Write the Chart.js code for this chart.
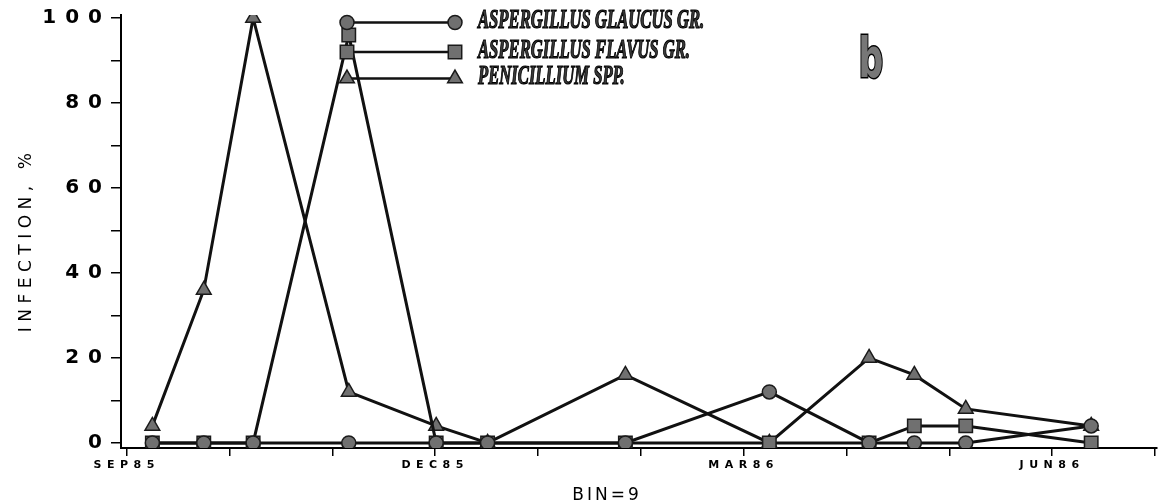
<!DOCTYPE html>
<html>
<head>
<meta charset="utf-8">
<script src="https://cdn.jsdelivr.net/npm/chart.js@4.4.1/dist/chart.umd.min.js"></script>
<style>
  html, body { margin: 0; padding: 0; background: #fff; }
  #wrap { width: 1168px; height: 504px; position: relative; }
</style>
</head>
<body>
<div id="wrap"><canvas id="infeccaoChart"></canvas></div>
<script>
// Datas de amostragem (meses desde SEP85) e infecção (%)
const sampleMonths = [0.25, 0.75, 1.23, 2.16, 3.01, 3.51, 4.85, 6.25, 7.22, 7.66, 8.16, 9.38];
const glaucus      = [0, 0, 0, 0, 0, 0, 0, 12, 0, 0, 0, 4];
const flavus       = [0, 0, 0, 96, 0, 0, 0, 0, 0, 4, 4, 0];
const penicillium  = [4, 36, 100, 12, 4, 0, 16, 0, 20, 16, 8, 4];

const monthLabels = ['SEP85', '', '', 'DEC85', '', '', 'MAR86', '', '', 'JUN86', ''];
const yTickValues = [0, 10, 20, 30, 40, 50, 60, 70, 80, 90, 100];
const seriesNames = ['ASPERGILLUS GLAUCUS GR.', 'ASPERGILLUS FLAVUS GR.', 'PENICILLIUM SPP.'];
const seriesStyles = ['circle', 'rect', 'triangle'];
const seriesRadius = [7, 9.5, 8.5];

function toPoints(values) {
    return values.map((v, i) => ({ x: sampleMonths[i], y: v }));
}

const allSeries = [glaucus, flavus, penicillium];
const datasets = allSeries.map((vals, i) => ({
    label: seriesNames[i],
    data: toPoints(vals),
    borderColor: '#111',
    borderWidth: 3,
    pointStyle: seriesStyles[i],
    pointRadius: seriesRadius[i],
    pointBackgroundColor: '#707070',
    pointBorderColor: '#1a1a1a',
    pointBorderWidth: 1.5,
    tension: 0
}));

// espaçamento entre letras nos rótulos de cada eixo
function espacar(px) {
    return function (scale) {
        if (scale._espacado) return;
        scale._espacado = true;
        const original = scale.drawLabels;
        scale.drawLabels = function (area) {
            this.ctx.letterSpacing = px;
            original.call(this, area);
            this.ctx.letterSpacing = '0px';
        };
    };
}

// legenda desenhada dentro do gráfico, letra "b" e títulos dos eixos
const legendPlugin = {
    id: 'legendaInterna',
    afterDatasetsDraw(chart) {
        const ctx = chart.ctx;
        const rows = [22.5, 52, 78.5];
        ctx.save();
        rows.forEach((y, i) => {
            ctx.strokeStyle = '#111';
            ctx.lineWidth = 2.4;
            ctx.beginPath();
            ctx.moveTo(347, y);
            ctx.lineTo(455, y);
            ctx.stroke();
            const opts = {
                pointStyle: seriesStyles[i],
                radius: seriesRadius[i],
                rotation: 0,
                borderWidth: 1.5
            };
            ctx.fillStyle = '#707070';
            ctx.strokeStyle = '#1a1a1a';
            ctx.lineWidth = 1.5;
            Chart.helpers.drawPoint(ctx, opts, 347, y);
            Chart.helpers.drawPoint(ctx, opts, 455, y);
        });

        ctx.font = 'italic bold 27px "Liberation Serif"';
        ctx.textBaseline = 'middle';
        ctx.textAlign = 'left';
        const sx = 212 / ctx.measureText(seriesNames[1]).width;
        rows.forEach((y, i) => {
            ctx.save();
            ctx.translate(478, y - 1);
            ctx.scale(sx, 1);
            ctx.fillStyle = '#3a3a3a';
            ctx.strokeStyle = '#000';
            ctx.lineWidth = 1.2;
            ctx.fillText(seriesNames[i], 0, 0);
            ctx.strokeText(seriesNames[i], 0, 0);
            ctx.restore();
        });

        // letra do painel
        ctx.save();
        ctx.translate(871, 62);
        ctx.scale(0.62, 1);
        ctx.font = 'bold 56px "DejaVu Sans"';
        ctx.textAlign = 'center';
        ctx.textBaseline = 'middle';
        ctx.fillStyle = '#777';
        ctx.strokeStyle = '#000';
        ctx.lineWidth = 3;
        ctx.strokeText('b', 0, 0);
        ctx.fillText('b', 0, 0);
        ctx.restore();

        // título do eixo y
        ctx.save();
        ctx.translate(27, 243);
        ctx.rotate(-Math.PI / 2);
        ctx.letterSpacing = '5.5px';
        ctx.font = '17px "DejaVu Sans"';
        ctx.fillStyle = '#000';
        ctx.textAlign = 'center';
        ctx.textBaseline = 'middle';
        ctx.fillText('INFECTION, %', 3, 0);
        ctx.restore();

        // título do eixo x
        ctx.letterSpacing = '3px';
        ctx.font = '17px "DejaVu Sans"';
        ctx.fillStyle = '#000';
        ctx.textAlign = 'center';
        ctx.textBaseline = 'middle';
        ctx.fillText('BIN=9', 607, 496);
        ctx.restore();
    }
};

const ctx = document.getElementById('infeccaoChart').getContext('2d');
const infeccaoChart = new Chart(ctx, {
    type: 'line',
    data: { datasets: datasets },
    plugins: [legendPlugin],
    options: {
        responsive: true,
        maintainAspectRatio: false,
        animation: false,
        layout: { padding: { top: 15, right: 6, left: 0, bottom: 0 } },
        plugins: {
            legend: { display: false },
            tooltip: { enabled: false }
        },
        scales: {
            x: {
                type: 'linear',
                min: -0.055,
                max: 10.02,
                afterBuildTicks(scale) {
                    scale.ticks = monthLabels.map((_, i) => ({ value: i }));
                },
                afterFit(scale) {
                    scale.height = 56;
                },
                afterUpdate: espacar('5.5px'),
                border: { display: true, color: '#000', width: 2 },
                grid: { drawOnChartArea: false, tickLength: 8, color: '#000', lineWidth: 1.5 },
                ticks: {
                    autoSkip: false,
                    maxRotation: 0,
                    padding: 3,
                    color: '#000',
                    font: { family: 'DejaVu Sans', weight: 'bold', size: 11 },
                    callback: (v, i) => monthLabels[i]
                }
            },
            y: {
                min: -1.2,
                max: 100.7,
                afterBuildTicks(scale) {
                    scale.ticks = yTickValues.map(v => ({ value: v }));
                },
                afterFit(scale) {
                    scale.width = 121;
                },
                afterUpdate: espacar('9px'),
                border: { display: true, color: '#000', width: 2 },
                grid: { drawOnChartArea: false, tickLength: 10, color: '#000', lineWidth: 1.5 },
                ticks: {
                    padding: 0,
                    color: '#000',
                    font: { family: 'DejaVu Sans', weight: 'bold', size: 20 },
                    callback: v => (v % 20 === 0 ? v : '')
                }
            }
        }
    }
});
</script>
</body>
</html>
